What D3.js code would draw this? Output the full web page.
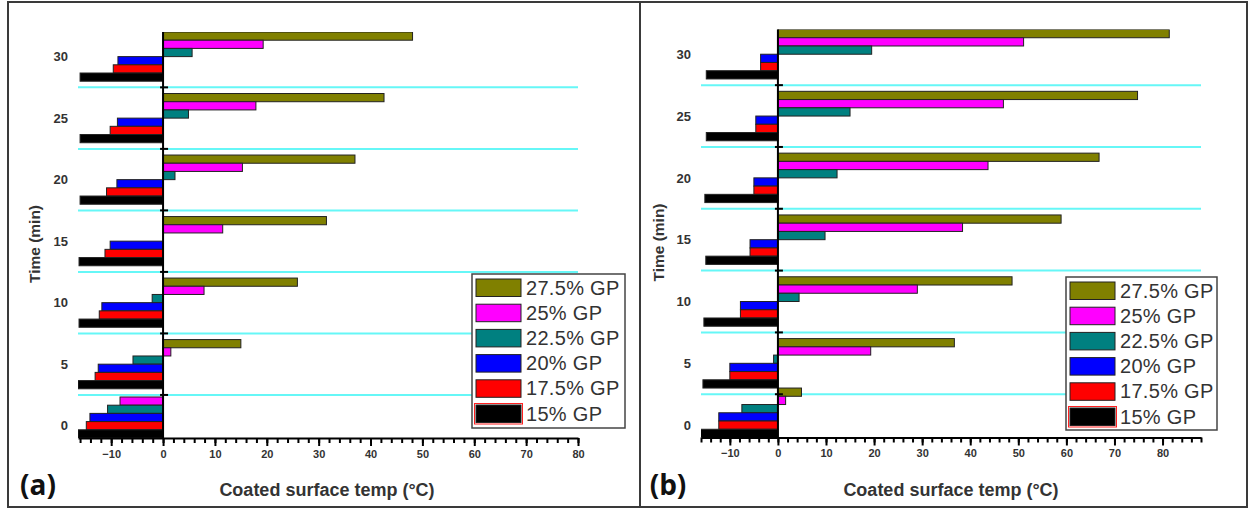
<!DOCTYPE html>
<html>
<head>
<meta charset="utf-8">
<script src="https://cdn.jsdelivr.net/npm/d3@7"></script>
<style>
  body { margin: 0; background: #fff; }
  svg { display: block; }
</style>
</head>
<body>
<svg id="chart" width="1248" height="508"></svg>
<script>
// Time axis labels and the time at which each bar group sits
const timeTicks = [0, 5, 10, 15, 20, 25, 30];
const groupTimes = [1, 5, 10, 15, 20, 25, 30];
const dividerTimes = [2.5, 7.5, 12.5, 17.5, 22.5, 27.5];

// Series, top bar of each group first
const seriesNames = ["27.5% GP", "25% GP", "22.5% GP", "20% GP", "17.5% GP", "15% GP"];
const seriesColors = ["#808000", "#ff00ff", "#008080", "#0000ff", "#ff0000", "#000000"];

// Panel (a): coated surface temperature (°C) per group time
const a_gp275 = [0, 15.0, 25.9, 31.5, 37.0, 42.6, 48.1];
const a_gp25  = [-8.3, 1.5, 7.9, 11.5, 15.3, 17.9, 19.3];
const a_gp225 = [-10.7, -5.8, -2.1, 0, 2.3, 4.9, 5.6];
const a_gp20  = [-14.1, -12.5, -11.8, -10.2, -8.9, -8.8, -8.7];
const a_gp175 = [-14.8, -13.1, -12.3, -11.2, -10.9, -10.2, -9.6];
const a_gp15  = [-16.4, -16.4, -16.2, -16.2, -16.0, -16.0, -16.0];

// Panel (b)
const b_gp275 = [4.9, 36.7, 48.7, 58.9, 66.8, 74.8, 81.4];
const b_gp25  = [1.6, 19.3, 29.0, 38.4, 43.7, 46.9, 51.1];
const b_gp225 = [-7.5, -0.9, 4.4, 9.8, 12.3, 15.0, 19.5];
const b_gp20  = [-12.3, -10.0, -7.8, -5.8, -5.0, -4.6, -3.6];
const b_gp175 = [-12.3, -10.0, -7.8, -5.8, -5.0, -4.6, -3.6];
const b_gp15  = [-16.1, -15.6, -15.4, -15.0, -15.2, -14.9, -14.9];

// X tick values
const a_majorTicks = [-10, 0, 10, 20, 30, 40, 50, 60, 70, 80];
const b_majorTicks = [-10, 0, 10, 20, 30, 40, 50, 60, 70, 80];

const panels = [
  {
    id: "a", tag: "(a)",
    series: [a_gp275, a_gp25, a_gp225, a_gp20, a_gp175, a_gp15],
    xDomain: [-16.4, 80], xRange: [78, 578], yRange: [438, 32],
    majorTicks: a_majorTicks, minorTicks: d3.range(-16, 80.1, 2),
    yLabelX: 68, yTitleX: 35, xTitleX: 327, tagX: 38,
    legend: { x: 472, y: 274, w: 153, h: 154 }
  },
  {
    id: "b", tag: "(b)",
    series: [b_gp275, b_gp25, b_gp225, b_gp20, b_gp175, b_gp15],
    xDomain: [-16, 88], xRange: [701, 1201], yRange: [437.5, 29.5],
    majorTicks: b_majorTicks, minorTicks: d3.range(-16, 88.1, 2),
    yLabelX: 691, yTitleX: 659, xTitleX: 951, tagX: 668,
    legend: { x: 1066, y: 277, w: 151, h: 153 }
  }
];

const svg = d3.select("#chart");
const ink = "#333";
const sans = "'Liberation Sans', Arial, sans-serif";

// Outer frame and centre divider
svg.append("rect").attr("x", 8).attr("y", 2).attr("width", 1239).attr("height", 505)
  .attr("fill", "none").attr("stroke", "#3a3a3a").attr("stroke-width", 2);
svg.append("line").attr("x1", 640).attr("x2", 640).attr("y1", 2).attr("y2", 507)
  .attr("stroke", "#3a3a3a").attr("stroke-width", 2);

panels.forEach(p => {
  const g = svg.append("g").attr("class", "panel-" + p.id);
  const x = d3.scaleLinear().domain(p.xDomain).range(p.xRange);
  const y = d3.scaleLinear().domain([-1, 32]).range(p.yRange);
  const groupH = y(0) - y(4);
  const inner = d3.scaleBand().domain(seriesNames).range([-groupH / 2, groupH / 2]);

  // Group divider lines
  g.selectAll("line.divider").data(dividerTimes).join("line")
    .attr("class", "divider")
    .attr("x1", p.xRange[0]).attr("x2", p.xRange[1])
    .attr("y1", d => y(d)).attr("y2", d => y(d))
    .attr("stroke", "#66f7f7").attr("stroke-width", 2);

  // Clip bars to the plotting area
  const clipId = "clip-" + p.id;
  g.append("clipPath").attr("id", clipId).append("rect")
    .attr("x", p.xRange[0]).attr("y", p.yRange[1])
    .attr("width", p.xRange[1] - p.xRange[0]).attr("height", p.yRange[0] - p.yRange[1]);

  const bars = [];
  p.series.forEach((vals, si) => {
    vals.forEach((v, gi) => {
      if (v !== 0) bars.push({ name: seriesNames[si], color: seriesColors[si], t: groupTimes[gi], v });
    });
  });

  g.append("g").attr("clip-path", `url(#${clipId})`)
    .selectAll("rect").data(bars).join("rect")
    .attr("x", d => x(Math.min(0, d.v)))
    .attr("width", d => Math.abs(x(d.v) - x(0)))
    .attr("y", d => y(d.t) + inner(d.name))
    .attr("height", inner.bandwidth())
    .attr("fill", d => d.color)
    .attr("stroke", "#222").attr("stroke-width", 1);

  // X axis: minor ticks, then major ticks with labels
  const axisY = p.yRange[0];
  const minorAxis = d3.axisBottom(x).tickValues(p.minorTicks).tickSize(5).tickSizeOuter(0).tickFormat("");
  const gMinor = g.append("g").attr("transform", `translate(0,${axisY})`).call(minorAxis);
  gMinor.select(".domain").attr("stroke", "#000").attr("stroke-width", 2);
  gMinor.selectAll(".tick line").attr("stroke", "#000").attr("stroke-width", 2);

  const majorAxis = d3.axisBottom(x).tickValues(p.majorTicks).tickSize(8).tickSizeOuter(0).tickPadding(4);
  const gMajor = g.append("g").attr("transform", `translate(0,${axisY})`).call(majorAxis);
  gMajor.select(".domain").remove();
  gMajor.selectAll(".tick line").attr("stroke", "#000").attr("stroke-width", 2);
  gMajor.selectAll(".tick text")
    .attr("font-family", sans)
    .attr("font-size", 11).attr("font-weight", "bold").attr("fill", ink);

  // Y axis line at zero, with small marks at the group dividers
  const x0 = x(0);
  g.append("line").attr("x1", x0).attr("x2", x0).attr("y1", p.yRange[0]).attr("y2", p.yRange[1])
    .attr("stroke", "#000").attr("stroke-width", 2);
  g.selectAll("line.ymark").data(dividerTimes).join("line")
    .attr("class", "ymark")
    .attr("x1", x0 - 3).attr("x2", x0 + 5)
    .attr("y1", d => y(d)).attr("y2", d => y(d))
    .attr("stroke", "#000").attr("stroke-width", 2);

  g.selectAll("text.ylab").data(timeTicks).join("text")
    .attr("class", "ylab")
    .attr("x", p.yLabelX).attr("y", d => y(d)).attr("dy", "0.36em")
    .attr("text-anchor", "end")
    .attr("font-family", sans)
    .attr("font-size", 13).attr("font-weight", "bold").attr("fill", ink)
    .text(d => d);

  // Axis titles
  const midY = (p.yRange[0] + p.yRange[1]) / 2 + 9;
  g.append("text")
    .attr("transform", `translate(${p.yTitleX},${midY}) rotate(-90)`)
    .attr("text-anchor", "middle").attr("dy", "0.35em")
    .attr("font-family", sans)
    .attr("font-size", 15.5).attr("font-weight", "bold").attr("fill", ink)
    .text("Time (min)");

  g.append("text")
    .attr("x", p.xTitleX).attr("y", 496)
    .attr("text-anchor", "middle")
    .attr("font-family", sans)
    .attr("font-size", 18).attr("font-weight", "bold").attr("fill", ink)
    .text("Coated surface temp (°C)");

  g.append("text")
    .attr("x", p.tagX).attr("y", 495)
    .attr("text-anchor", "middle")
    .attr("font-family", "'Open Sans', 'Liberation Sans', sans-serif")
    .attr("font-size", 28).attr("font-weight", "bold").attr("fill", "#111")
    .text(p.tag);

  // Legend
  const L = p.legend;
  const lg = g.append("g").attr("transform", `translate(${L.x},${L.y})`);
  lg.append("rect").attr("width", L.w).attr("height", L.h)
    .attr("fill", "#fff").attr("stroke", "#444").attr("stroke-width", 1.5);
  const rows = lg.selectAll("g.row").data(seriesNames).join("g")
    .attr("class", "row")
    .attr("transform", (d, i) => `translate(4,${5 + i * 25.2})`);
  rows.append("rect").attr("width", 45).attr("height", 17.5)
    .attr("fill", (d, i) => seriesColors[i]).attr("stroke", "#222").attr("stroke-width", 1);
  rows.filter((d, i) => i === seriesNames.length - 1).append("rect")
    .attr("x", -1.5).attr("y", -1.5).attr("width", 48).attr("height", 20.5)
    .attr("fill", "none").attr("stroke", "#ff2020").attr("stroke-width", 1);
  rows.append("text")
    .attr("x", 50).attr("y", 15.5)
    .attr("font-family", sans)
    .attr("font-size", 20).attr("letter-spacing", 0.3).attr("fill", ink)
    .text(d => d);
});
</script>
</body>
</html>
